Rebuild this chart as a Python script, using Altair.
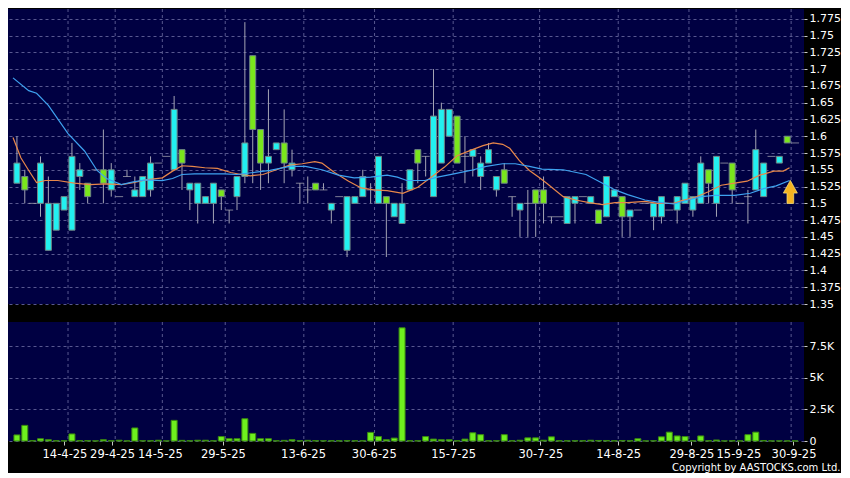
import altair as alt
import pandas as pd

# ---------------- data ----------------
opens = [1.53, 1.54, 1.50, 1.50, 1.43, 1.46, 1.49, 1.46, 1.54, 1.53,
         1.55, 1.55, 1.52, 1.51, 1.54, 1.51, 1.51, 1.52, 1.56, 1.57,
         1.55, 1.58, 1.52, 1.50, 1.50, 1.50, 1.52, 1.49, 1.51, 1.54,
         1.72, 1.61, 1.56, 1.58, 1.59, 1.55, 1.53, 1.52, 1.53, 1.52,
         1.49, 1.51, 1.43, 1.50, 1.51, 1.52, 1.50, 1.51, 1.48, 1.47,
         1.52, 1.58, 1.57, 1.51, 1.56, 1.60, 1.63, 1.57, 1.57, 1.54,
         1.56, 1.52, 1.55, 1.51, 1.49, 1.50, 1.52, 1.52, 1.48, 1.48,
         1.47, 1.50, 1.51, 1.50, 1.49, 1.48, 1.51, 1.51, 1.48, 1.49,
         1.50, 1.48, 1.48, 1.49, 1.49, 1.50, 1.49, 1.50, 1.55, 1.50,
         1.56, 1.56, 1.50, 1.51, 1.52, 1.51, 1.57, 1.56, 1.60, 1.59]
closes = [1.56, 1.52, 1.50, 1.56, 1.50, 1.50, 1.51, 1.57, 1.55, 1.51,
          1.55, 1.53, 1.55, 1.51, 1.54, 1.52, 1.54, 1.56, 1.56, 1.57,
          1.64, 1.56, 1.53, 1.53, 1.51, 1.53, 1.51, 1.49, 1.54, 1.59,
          1.61, 1.56, 1.57, 1.59, 1.56, 1.56, 1.53, 1.52, 1.52, 1.52,
          1.50, 1.51, 1.51, 1.51, 1.54, 1.52, 1.57, 1.50, 1.50, 1.50,
          1.55, 1.56, 1.57, 1.63, 1.64, 1.64, 1.56, 1.57, 1.58, 1.56,
          1.58, 1.54, 1.53, 1.51, 1.50, 1.50, 1.50, 1.50, 1.48, 1.48,
          1.51, 1.51, 1.51, 1.51, 1.47, 1.54, 1.52, 1.48, 1.49, 1.49,
          1.50, 1.50, 1.51, 1.49, 1.51, 1.53, 1.51, 1.56, 1.53, 1.57,
          1.56, 1.52, 1.50, 1.51, 1.58, 1.56, 1.57, 1.57, 1.59, 1.59]
highs = [1.60, 1.55, 1.50, 1.57, 1.54, 1.50, 1.51, 1.59, 1.56, 1.53,
         1.55, 1.61, 1.56, 1.51, 1.55, 1.54, 1.54, 1.57, 1.56, 1.57,
         1.66, 1.58, 1.53, 1.53, 1.51, 1.53, 1.52, 1.49, 1.54, 1.77,
         1.72, 1.61, 1.67, 1.59, 1.64, 1.58, 1.53, 1.54, 1.53, 1.53,
         1.50, 1.51, 1.51, 1.51, 1.55, 1.53, 1.57, 1.51, 1.50, 1.53,
         1.55, 1.58, 1.57, 1.70, 1.65, 1.64, 1.63, 1.60, 1.58, 1.57,
         1.59, 1.54, 1.56, 1.51, 1.50, 1.52, 1.52, 1.54, 1.48, 1.48,
         1.51, 1.51, 1.51, 1.51, 1.49, 1.54, 1.52, 1.51, 1.49, 1.49,
         1.50, 1.50, 1.51, 1.49, 1.51, 1.53, 1.51, 1.57, 1.55, 1.57,
         1.56, 1.56, 1.50, 1.52, 1.61, 1.56, 1.57, 1.57, 1.60, 1.59]
lows = [1.53, 1.50, 1.50, 1.48, 1.43, 1.46, 1.49, 1.46, 1.52, 1.50,
        1.55, 1.50, 1.51, 1.51, 1.54, 1.51, 1.51, 1.51, 1.56, 1.57,
        1.55, 1.52, 1.49, 1.47, 1.50, 1.47, 1.49, 1.47, 1.49, 1.53,
        1.53, 1.52, 1.53, 1.58, 1.53, 1.54, 1.50, 1.50, 1.52, 1.52,
        1.47, 1.51, 1.42, 1.50, 1.51, 1.50, 1.50, 1.42, 1.48, 1.47,
        1.52, 1.53, 1.54, 1.51, 1.56, 1.60, 1.56, 1.53, 1.54, 1.52,
        1.56, 1.51, 1.53, 1.48, 1.45, 1.45, 1.45, 1.47, 1.47, 1.48,
        1.47, 1.47, 1.51, 1.50, 1.47, 1.48, 1.51, 1.45, 1.45, 1.49,
        1.50, 1.46, 1.47, 1.49, 1.47, 1.50, 1.48, 1.50, 1.50, 1.48,
        1.56, 1.50, 1.50, 1.47, 1.52, 1.51, 1.57, 1.56, 1.59, 1.59]
volumes = [480, 1235, 30, 180, 100, 20, 20, 557, 30, 30,
           10, 100, 20, 60, 10, 1030, 20, 20, 60, 10,
           1630, 50, 20, 60, 60, 20, 350, 180, 180, 1760,
           600, 180, 180, 20, 50, 100, 20, 50, 30, 20,
           20, 20, 30, 20, 20, 680, 350, 100, 230, 8940,
           20, 20, 350, 150, 100, 100, 20, 150, 650, 500,
           20, 20, 500, 20, 60, 250, 250, 60, 330, 20,
           20, 20, 20, 60, 40, 40, 20, 40, 20, 180,
           10, 20, 330, 700, 400, 350, 20, 400, 20, 80,
           10, 20, 10, 500, 700, 40, 10, 10, 10, 10]

ma_short_idx = [-0.5, 0.5, 1.5, 2.5, 3.6, 5.2, 7.3, 9.3, 11.4, 13.3,
                14.8, 16.4, 18.5, 19.8, 21.0, 22.3, 23.9, 25.5, 27.2, 28.5,
                29.7, 31.3, 33.0, 34.7, 36.3, 37.9, 38.8, 40.4, 42.2, 43.8,
                45.4, 47.1, 49.1, 51.0, 52.7, 54.4, 56.0, 57.7, 59.3, 60.6,
                61.8, 62.7, 63.9, 65.2, 66.4, 67.4, 69.5, 71.1, 72.8, 74.5,
                76.1, 77.7, 79.9, 81.5, 83.6, 84.6, 86.3, 87.9, 89.6, 91.3,
                92.9, 94.5, 96.3, 97.5, 98.3]
ma_short_val = [1.598, 1.568, 1.549, 1.531, 1.534, 1.534, 1.530, 1.528, 1.529, 1.528,
                1.531, 1.535, 1.538, 1.548, 1.556, 1.555, 1.553, 1.552, 1.546, 1.543,
                1.541, 1.543, 1.550, 1.557, 1.559, 1.562, 1.560, 1.546, 1.533, 1.523,
                1.520, 1.519, 1.515, 1.524, 1.539, 1.554, 1.571, 1.579, 1.586, 1.590,
                1.588, 1.582, 1.564, 1.549, 1.539, 1.530, 1.510, 1.505, 1.501, 1.498,
                1.501, 1.501, 1.503, 1.500, 1.500, 1.504, 1.509, 1.517, 1.527, 1.530,
                1.533, 1.542, 1.548, 1.548, 1.553]
ma_long_idx = [-0.5, 1.5, 2.5, 4.0, 6.5, 8.6, 10.2, 11.4, 13.3, 14.8,
               16.4, 18.5, 19.8, 21.0, 22.6, 26.4, 28.0, 30.1, 32.2, 34.7,
               36.7, 38.8, 40.9, 42.9, 45.0, 47.1, 48.4, 49.6, 51.9, 53.5,
               55.6, 57.7, 59.7, 61.8, 63.4, 65.2, 66.8, 69.5, 72.4, 74.5,
               76.1, 77.7, 79.9, 82.0, 83.6, 85.4, 87.1, 88.8, 91.3, 93.3,
               95.0, 96.6, 98.3]
ma_long_val = [1.687, 1.668, 1.664, 1.646, 1.604, 1.578, 1.549, 1.537, 1.528, 1.532,
               1.535, 1.534, 1.537, 1.543, 1.544, 1.544, 1.543, 1.546, 1.549, 1.555,
               1.555, 1.550, 1.542, 1.538, 1.539, 1.542, 1.539, 1.534, 1.534, 1.539,
               1.544, 1.549, 1.555, 1.559, 1.559, 1.555, 1.551, 1.550, 1.543, 1.530,
               1.520, 1.513, 1.505, 1.501, 1.499, 1.505, 1.510, 1.512, 1.512, 1.515,
               1.522, 1.526, 1.534]

tick_pos = [6.05, 12.1, 18.2, 26.2, 36.4, 45.4, 55.5, 66.6, 76.5, 85.8, 91.8, 98.8]
tick_labels = ["14-4-25", "29-4-25", "14-5-25", "29-5-25", "13-6-25", "30-6-25",
               "15-7-25", "30-7-25", "14-8-25", "29-8-25", "15-9-25", "30-9-25"]
grid_pos = [6.5, 12.5, 18.5, 26.5, 36.5, 45.5, 55.5, 66.5, 76.5, 85.5, 91.5, 98.5]

price_ticks = [round(1.35 + 0.025 * k, 3) for k in range(18)]
volume_ticks = [0, 2500, 5000, 7500]

arrow_idx = [98.4]
arrow_price = [1.517]

copyright_text = "Copyright by AASTOCKS.com Ltd."

# ---------------- styling ----------------
NAVY = "#000042"
GRID = "#585890"
CYAN = "#22f0f0"
GREEN = "#7ae61c"
BODY_STROKE = "#6f8585"
WICK = "#a4a4b4"
DOJI = "#b0b0b8"
ORANGE = "#e8874a"
BLUE = "#3ea2f0"
VOL_FILL = "#6ef01e"
VOL_STROKE = "#3a8a10"
FONT = "DejaVu Sans"

W = 796
H1 = 295
H2 = 119

df = pd.DataFrame({"i": list(range(len(opens))), "open": opens, "close": closes,
                   "high": highs, "low": lows, "vol": volumes})
df["dir"] = ["up" if c > o else ("down" if c < o else "flat") for o, c in zip(opens, closes)]
bodies = df[df["dir"] != "flat"]
dojis = df[df["dir"] == "flat"]
grid_df = pd.DataFrame({"g": grid_pos})
ma_s = pd.DataFrame({"i": ma_short_idx, "v": ma_short_val})
ma_l = pd.DataFrame({"i": ma_long_idx, "v": ma_long_val})
arrow_df = pd.DataFrame({"i": arrow_idx, "v": arrow_price})

x_scale = alt.Scale(domain=[-0.5, 99.5], nice=False, zero=False)
p_scale = alt.Scale(domain=[1.35, 1.7896], nice=False, zero=False)
v_scale = alt.Scale(domain=[0, 9400], nice=False, zero=False)

p_axis = alt.Axis(orient="right", values=price_ticks, labelExpr="'' + datum.value",
                  grid=True, gridColor=GRID, gridDash=[3, 3], gridWidth=1,
                  domain=False, ticks=True, tickColor="#c8c8c8", tickSize=3,
                  labelPadding=2, labelColor="#ffffff", labelFont=FONT,
                  labelFontSize=11, labelOverlap=False, labelFlush=False, title=None)
v_axis = alt.Axis(orient="right", values=volume_ticks,
                  labelExpr="datum.value == 0 ? '0' : (datum.value / 1000) + 'K'",
                  grid=True, gridColor=GRID, gridDash=[3, 3], gridWidth=1,
                  domain=False, ticks=True, tickColor="#c8c8c8", tickSize=3,
                  labelPadding=2, labelColor="#ffffff", labelFont=FONT,
                  labelFontSize=11, labelOverlap=False, labelFlush=False, title=None)

labels_js = "[" + ",".join("'" + s + "'" for s in tick_labels) + "]"
pos_js = "[" + ",".join(str(p) for p in tick_pos) + "]"
x_axis_vol = alt.Axis(values=tick_pos, labelExpr=labels_js + "[indexof(" + pos_js + ", datum.value)]",
                      grid=False, domain=False, ticks=True, tickColor="#c8c8c8", tickSize=4,
                      labelPadding=3, labelColor="#ffffff", labelFont=FONT, labelFontSize=11.5,
                      labelOverlap=False, labelFlush=False, title=None)

def X(field, axis=None):
    if axis is None:
        return alt.X(field, type="quantitative", scale=x_scale, axis=None)
    return alt.X(field, type="quantitative", scale=x_scale, axis=axis)

def YP(field):
    return alt.Y(field, type="quantitative", scale=p_scale, axis=p_axis)

vgrid_p = alt.Chart(grid_df).mark_rule(color=GRID, strokeDash=[3, 3], strokeWidth=1).encode(x=X("g"))
wicks = alt.Chart(df).mark_rule(color=WICK, strokeWidth=1).encode(
    x=X("i"), y=YP("low"), y2="high")
body = alt.Chart(bodies).mark_bar(size=6, stroke=BODY_STROKE, strokeWidth=1).encode(
    x=X("i"), y=YP("open"), y2="close",
    fill=alt.Color("dir:N", scale=alt.Scale(domain=["up", "down"], range=[CYAN, GREEN]), legend=None))
doji = alt.Chart(dojis).mark_tick(orient="horizontal", size=8, thickness=1, color=DOJI).encode(
    x=X("i"), y=YP("close"))
line_s = alt.Chart(ma_s).mark_line(color=ORANGE, strokeWidth=1.2).encode(x=X("i"), y=YP("v"))
line_l = alt.Chart(ma_l).mark_line(color=BLUE, strokeWidth=1.2).encode(x=X("i"), y=YP("v"))
arrow = alt.Chart(arrow_df).mark_point(
    shape="M0,-1 L0.61,0.1 L0.29,0.1 L0.29,1 L-0.29,1 L-0.29,0.1 L-0.61,0.1 Z",
    size=529, filled=True, fill="#f5b321", stroke="#ffe680", strokeWidth=0.7, opacity=1
).encode(x=X("i"), y=YP("v"))

price = alt.layer(vgrid_p, wicks, body, doji, line_s, line_l, arrow).properties(width=W, height=H1)

vgrid_v = alt.Chart(grid_df).mark_rule(color=GRID, strokeDash=[3, 3], strokeWidth=1).encode(
    x=X("g", x_axis_vol))
vbars = alt.Chart(df).mark_bar(size=6, fill=VOL_FILL, stroke=VOL_STROKE, strokeWidth=1).encode(
    x=X("i", x_axis_vol),
    y=alt.Y("vol", type="quantitative", scale=v_scale, axis=v_axis))
volume = alt.layer(vgrid_v, vbars).properties(width=W, height=H2)

chart = alt.vconcat(price, volume, spacing=12).properties(
    padding=0,
    title=alt.TitleParams(text=copyright_text, orient="bottom", anchor="end", fontSize=10,
                          font=FONT, color="#ffffff", fontWeight="normal", offset=3,
                          baseline="top"),
).configure(background="#000000").configure_view(fill=NAVY, stroke=NAVY, strokeWidth=0)

chart.save("out.html", embed_options={"renderer": "svg", "actions": False})
